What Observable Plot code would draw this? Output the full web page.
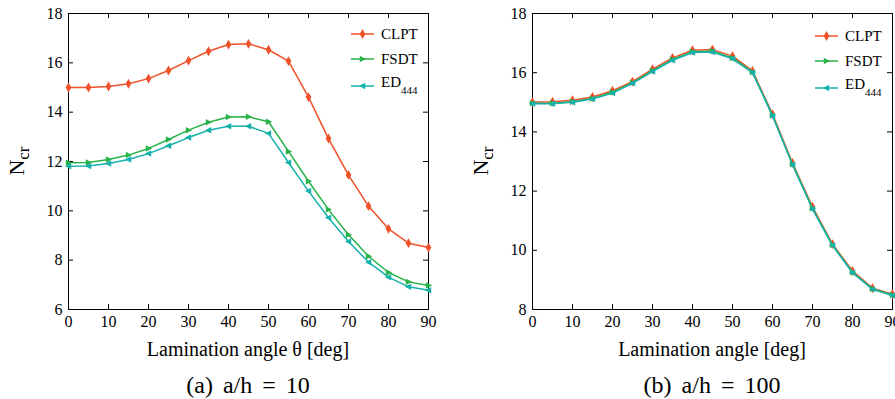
<!DOCTYPE html>
<html>
<head>
<meta charset="utf-8">
<script src="https://cdn.jsdelivr.net/npm/d3@7"></script>
<script src="https://cdn.jsdelivr.net/npm/@observablehq/plot@0.6"></script>
<style>
  html, body { margin: 0; padding: 0; background: #fff; overflow: hidden; }
  body { width: 895px; height: 399px; font-family: "Liberation Serif", "Times New Roman", serif; color: #000; }
  .row { display: flex; }
  .panel { position: relative; }
  .xlabel { font-size: 20px; height: 38px; line-height: 38px; text-align: center; }
  .caption { font-size: 24px; height: 34px; line-height: 34px; text-align: center; word-spacing: 4px; }
</style>
</head>
<body>
<div class="row">
  <div class="panel" id="pa"></div>
  <div class="panel" id="pb"></div>
</div>
<script>
// ---- data ----
const angles = [0, 5, 10, 15, 20, 25, 30, 35, 40, 45, 50, 55, 60, 65, 70, 75, 80, 85, 90];
const seriesNames = ["CLPT", "FSDT", "ED444"];
const seriesColors = ["#ef5128", "#27b24a", "#16b1ad"];

const clpt10 = [15.00, 15.00, 15.04, 15.15, 15.36, 15.69, 16.09, 16.47, 16.74, 16.77, 16.53, 16.07, 14.61, 12.93, 11.45, 10.19, 9.27, 8.69, 8.51];
const fsdt10 = [11.95, 11.96, 12.08, 12.26, 12.53, 12.89, 13.27, 13.59, 13.80, 13.81, 13.61, 12.41, 11.20, 10.05, 9.03, 8.16, 7.50, 7.12, 6.97];
const ed10   = [11.81, 11.82, 11.92, 12.08, 12.32, 12.64, 12.97, 13.27, 13.43, 13.43, 13.14, 11.96, 10.80, 9.72, 8.76, 7.92, 7.31, 6.92, 6.78];

const clpt100 = [15.00, 15.02, 15.07, 15.18, 15.39, 15.70, 16.12, 16.50, 16.76, 16.78, 16.56, 16.06, 14.60, 12.95, 11.47, 10.21, 9.30, 8.72, 8.52];
const fsdt100 = [14.97, 14.97, 15.02, 15.13, 15.34, 15.66, 16.07, 16.45, 16.71, 16.73, 16.50, 16.02, 14.56, 12.91, 11.42, 10.18, 9.26, 8.70, 8.49];
const ed100   = [14.95, 14.95, 15.00, 15.11, 15.31, 15.64, 16.04, 16.42, 16.68, 16.70, 16.47, 16.00, 14.54, 12.89, 11.39, 10.16, 9.24, 8.68, 8.47];

const xTicks = [0, 10, 20, 30, 40, 50, 60, 70, 80, 90];
const yTicksA = [6, 8, 10, 12, 14, 16, 18];
const yTicksB = [8, 10, 12, 14, 16, 18];

// ---- symbols ----
const triRight = { draw(ctx, size) { const r = Math.sqrt(size / Math.PI); ctx.moveTo(r, 0); ctx.lineTo(-r * 0.75, -r * 0.9); ctx.lineTo(-r * 0.75, r * 0.9); ctx.closePath(); } };
const triLeft  = { draw(ctx, size) { const r = Math.sqrt(size / Math.PI); ctx.moveTo(-r, 0); ctx.lineTo(r * 0.75, -r * 0.9); ctx.lineTo(r * 0.75, r * 0.9); ctx.closePath(); } };
const symbols = [d3.symbolDiamond, triRight, triLeft];
const radii = [3, 3.6, 3.6];

function toRows(arrays) {
  const rows = [];
  arrays.forEach((vals, si) => vals.forEach((v, i) => rows.push({ angle: angles[i], value: v, series: seriesNames[si], si })));
  return rows;
}

function makePanel(el, opts) {
  const { arrays, yTicks, yDomain, width, marginLeft, marginRight, xlabel, caption } = opts;
  const marginTop = 13, marginBottom = 21, height = 330;
  const frameH = height - marginTop - marginBottom;
  const frameW = width - marginLeft - marginRight;
  const rows = toRows(arrays);
  const marks = [
    Plot.frame({ stroke: "#000", strokeWidth: 1 }),
    // inward ticks
    Plot.ruleX(xTicks, { x: d => d, insetTop: frameH - 5, stroke: "#000" }),
    Plot.ruleX(xTicks, { x: d => d, insetBottom: frameH - 5, stroke: "#000" }),
    Plot.tickY(yTicks, { y: d => d, insetRight: frameW - 5, stroke: "#000" }),
    Plot.tickY(yTicks, { y: d => d, insetLeft: frameW - 5, stroke: "#000" }),
    Plot.axisX({ ticks: xTicks, tickSize: 0, tickPadding: 6, label: null, fontSize: 16 }),
    Plot.axisY({ ticks: yTicks, tickSize: 0, tickPadding: 6, label: null, fontSize: 16 })
  ];
  seriesNames.forEach((name, si) => {
    const data = rows.filter(r => r.si === si);
    marks.push(Plot.line(data, { x: "angle", y: "value", stroke: seriesColors[si], strokeWidth: 1.5 }));
    marks.push(Plot.dot(data, { x: "angle", y: "value", fill: seriesColors[si], stroke: "none", symbol: symbols[si], r: radii[si] }));
  });
  const chart = Plot.plot({
    width, height, marginTop, marginBottom, marginLeft, marginRight,
    x: { domain: [0, 90] },
    y: { domain: yDomain },
    style: { fontFamily: "'Liberation Serif', 'Times New Roman', serif", fontSize: "16px", color: "#000", background: "transparent", overflow: "visible" },
    marks
  });
  el.appendChild(chart);
  const svg = d3.select(chart);
  const frameRight = width - marginRight;
  // y label N_cr
  const yl = svg.append("text")
    .attr("transform", `translate(${marginLeft - 44},${marginTop + frameH / 2}) rotate(-90)`)
    .attr("text-anchor", "middle")
    .attr("font-family", "'Liberation Serif', 'Times New Roman', serif").attr("font-size", 22).attr("fill", "#000");
  yl.append("tspan").text("N");
  yl.append("tspan").attr("font-size", 17).attr("dy", 5).text("cr");
  // legend
  const leg = svg.append("g").attr("font-family", "'Liberation Serif', 'Times New Roman', serif").attr("font-size", 15).attr("text-anchor", "start");
  const rowY = [21, 46, 73];
  seriesNames.forEach((name, si) => {
    const y = marginTop + rowY[si] + (opts.legendShift || 0);
    const x0 = frameRight - 77, x1 = frameRight - 54;
    leg.append("line").attr("x1", x0).attr("x2", x1).attr("y1", y).attr("y2", y).attr("stroke", seriesColors[si]).attr("stroke-width", 1.5);
    leg.append("path").attr("transform", `translate(${(x0 + x1) / 2},${y})`).attr("d", d3.symbol(symbols[si], radii[si] * radii[si] * Math.PI)()).attr("fill", seriesColors[si]);
    const t = leg.append("text").attr("x", frameRight - 47).attr("y", si === 2 ? y - 4 : y).attr("dy", "0.35em").attr("fill", "#000").attr("text-anchor", "start");
    if (si === 2) {
      t.append("tspan").text("ED");
      t.append("tspan").attr("font-size", 11).attr("dy", 7).text("444");
    } else {
      t.text(name);
    }
  });
  const xl = document.createElement("div");
  xl.className = "xlabel";
  xl.style.paddingLeft = marginLeft + "px";
  xl.style.width = frameW + "px";
  xl.textContent = xlabel;
  el.appendChild(xl);
  const cap = document.createElement("div");
  cap.className = "caption";
  cap.style.paddingLeft = marginLeft + "px";
  cap.style.width = frameW + "px";
  cap.textContent = caption;
  el.appendChild(cap);
}

makePanel(document.getElementById("pa"), {
  arrays: [clpt10, fsdt10, ed10], yTicks: yTicksA, yDomain: [6, 18],
  width: 448, marginLeft: 68, marginRight: 20,
  xlabel: "Lamination angle \u03b8 [deg]", caption: "(a) a/h = 10"
});
makePanel(document.getElementById("pb"), {
  arrays: [clpt100, fsdt100, ed100], yTicks: yTicksB, yDomain: [8, 18],
  width: 447, marginLeft: 84, marginRight: 3, legendShift: 2,
  xlabel: "Lamination angle [deg]", caption: "(b) a/h = 100"
});
</script>
</body>
</html>
